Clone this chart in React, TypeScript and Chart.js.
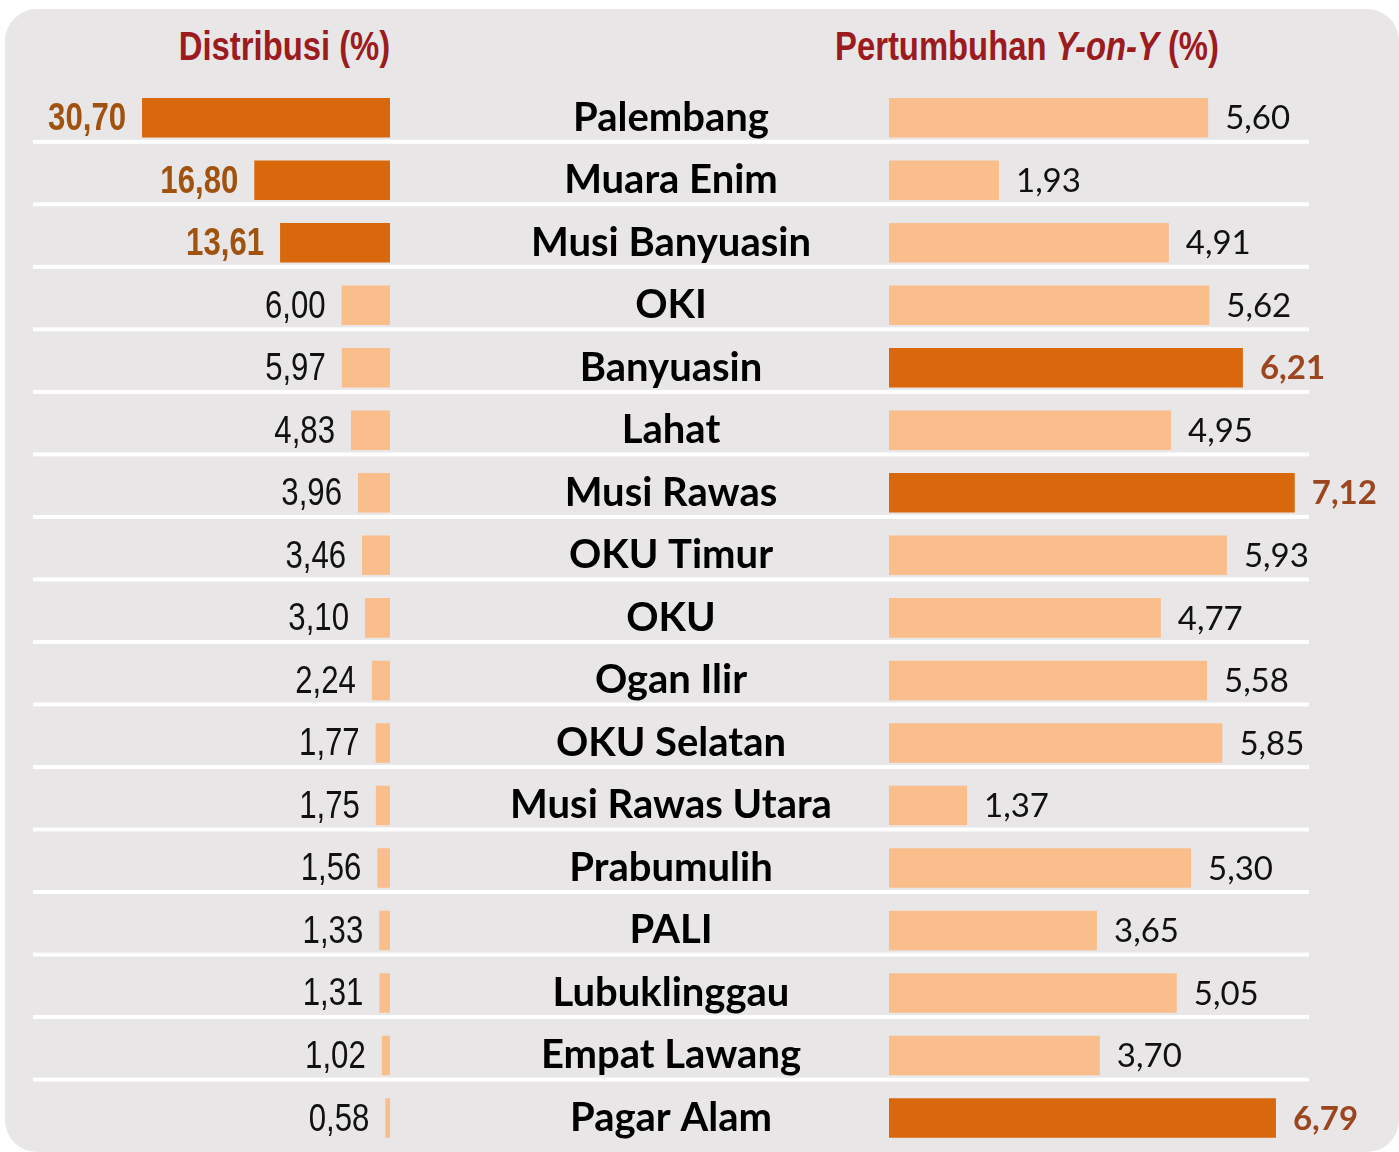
import React, { useEffect, useRef } from 'react';
import { Chart, registerables } from 'chart.js';

Chart.register(...registerables);

const regions = [
  'Palembang', 'Muara Enim', 'Musi Banyuasin', 'OKI', 'Banyuasin', 'Lahat', 'Musi Rawas',
  'OKU Timur', 'OKU', 'Ogan Ilir', 'OKU Selatan', 'Musi Rawas Utara', 'Prabumulih', 'PALI',
  'Lubuklinggau', 'Empat Lawang', 'Pagar Alam',
];
const distribusi = [30.7, 16.8, 13.61, 6.0, 5.97, 4.83, 3.96, 3.46, 3.1, 2.24, 1.77, 1.75, 1.56, 1.33, 1.31, 1.02, 0.58];
const pertumbuhan = [5.6, 1.93, 4.91, 5.62, 6.21, 4.95, 7.12, 5.93, 4.77, 5.58, 5.85, 1.37, 5.3, 3.65, 5.05, 3.7, 6.79];
const leftTitle = 'Distribusi (%)';
const rightTitleA = 'Pertumbuhan ';
const rightTitleB = 'Y-on-Y';
const rightTitleC = ' (%)';

const DARK = '#d9670b';
const LIGHT = '#f9be8c';
const BG = '#e8e6e7';
const TITLE_RED = '#9b1b1f';
const NARROW = '"Liberation Sans", Arial, sans-serif';
const NARROW_SCALE = 0.82;
const SANS = 'Lato, "Open Sans", sans-serif';

const top3 = (arr: number[]) => {
  const sorted = [...arr].sort((a, b) => b - a);
  const thr = sorted[2];
  return arr.map((v) => v >= thr);
};
const fmt = (v: number) => v.toFixed(2).replace('.', ',');

const TOP_PAD = 86.44;
const BOTTOM_PAD = 2.7;

const separatorPlugin = (fromArea: 'left' | 'right') => ({
  id: 'separators' + fromArea,
  beforeDatasetsDraw(chart: any) {
    const y = chart.scales.y;
    const ctx = chart.ctx;
    const pitch = y.getPixelForValue(1) - y.getPixelForValue(0);
    const x0 = fromArea === 'left' ? chart.chartArea.left : 0;
    const x1 = fromArea === 'left' ? chart.width : chart.chartArea.right;
    ctx.save();
    ctx.fillStyle = '#ffffff';
    for (let i = 0; i < regions.length - 1; i++) {
      const yy = y.getPixelForValue(i) + pitch * 0.385;
      ctx.fillRect(x0, yy - 2, x1 - x0, 4);
    }
    ctx.restore();
  },
});

const valueLabelPlugin = (side: 'left' | 'right', values: number[], hi: boolean[]) => ({
  id: 'valueLabels' + side,
  afterDatasetsDraw(chart: any) {
    const meta = chart.getDatasetMeta(0);
    const ctx = chart.ctx;
    meta.data.forEach((el: any, i: number) => {
      const v = values[i];
      ctx.save();
      ctx.textBaseline = 'middle';
      if (side === 'left') {
        ctx.font = `${hi[i] ? 'bold ' : ''}38px ${NARROW}`;
        ctx.fillStyle = hi[i] ? '#a0520f' : '#111111';
        ctx.textAlign = 'right';
        ctx.translate(el.x - 16, el.y + 2);
        ctx.scale(NARROW_SCALE, 1);
        ctx.fillText(fmt(v), 0, 0);
      } else {
        ctx.font = `${hi[i] ? 'bold ' : ''}33px ${SANS}`;
        ctx.fillStyle = hi[i] ? '#9b461f' : '#111111';
        ctx.textAlign = 'left';
        ctx.fillText(fmt(v), el.x + 17, el.y + 1);
      }
      ctx.restore();
    });
  },
});

export default function App() {
  const leftRef = useRef<HTMLCanvasElement | null>(null);
  const rightRef = useRef<HTMLCanvasElement | null>(null);

  useEffect(() => {
    const hiL = top3(distribusi);
    const hiR = top3(pertumbuhan);

    const mctx = document.createElement('canvas').getContext('2d')!;
    mctx.font = `bold 40px ${SANS}`;
    const widest = Math.max(...regions.map((r) => mctx.measureText(r).width));
    const labelPad = 889 - 671 - widest / 2;

    const left = new Chart(leftRef.current!, {
      type: 'bar',
      data: {
        labels: regions,
        datasets: [{
          data: distribusi,
          backgroundColor: distribusi.map((_, i) => (hiL[i] ? DARK : LIGHT)),
          borderWidth: 0,
          categoryPercentage: 1,
          barPercentage: 0.632,
        }],
      },
      options: {
        indexAxis: 'y',
        responsive: false,
        animation: false,
        layout: { padding: { left: 33, right: 70, top: TOP_PAD, bottom: BOTTOM_PAD } },
        plugins: { legend: { display: false }, tooltip: { enabled: false }, title: { display: false } },
        scales: {
          x: { display: false, reverse: true, min: 0, max: 44.2 },
          y: { display: false, offset: true },
        },
      },
      plugins: [separatorPlugin('left'), valueLabelPlugin('left', distribusi, hiL)],
    });

    const right = new Chart(rightRef.current!, {
      type: 'bar',
      data: {
        labels: regions,
        datasets: [{
          data: pertumbuhan,
          backgroundColor: pertumbuhan.map((_, i) => (hiR[i] ? DARK : LIGHT)),
          borderWidth: 0,
          categoryPercentage: 1,
          barPercentage: 0.632,
        }],
      },
      options: {
        indexAxis: 'y',
        responsive: false,
        animation: false,
        layout: { padding: { left: 0, right: 90, top: TOP_PAD, bottom: BOTTOM_PAD } },
        plugins: { legend: { display: false }, tooltip: { enabled: false }, title: { display: false } },
        scales: {
          x: { display: false, min: 0, max: 7.37 },
          y: {
            position: 'left',
            offset: true,
            grid: { display: false, drawTicks: false },
            border: { display: false },
            ticks: {
              autoSkip: false,
              crossAlign: 'center',
              padding: labelPad,
              color: '#000000',
              font: { family: SANS, weight: 'bold', size: 40 },
            },
            afterFit(scale: any) {
              scale.width = 429;
              scale.paddingTop = 0;
              scale.paddingBottom = 0;
            },
          },
        },
      },
      plugins: [separatorPlugin('right'), valueLabelPlugin('right', pertumbuhan, hiR)],
    });

    return () => {
      left.destroy();
      right.destroy();
    };
  }, []);

  const titleStyle: React.CSSProperties = {
    position: 'absolute',
    top: 26,
    fontFamily: NARROW,
    fontWeight: 'bold',
    fontSize: 40,
    lineHeight: '40px',
    color: TITLE_RED,
    textAlign: 'center',
    whiteSpace: 'nowrap',
    transform: `scaleX(${NARROW_SCALE})`,
    transformOrigin: 'center',
  };

  return (
    <div style={{ position: 'absolute', left: 0, top: 0, width: 1399, height: 1152, overflow: 'hidden' }}>
      <div style={{ position: 'absolute', left: 5, top: 9, width: 1394, height: 1143, borderRadius: 32, background: BG }} />
      <div style={{ ...titleStyle, left: 0, width: 569 }}>{leftTitle}</div>
      <div style={{ ...titleStyle, left: 655, width: 744 }}>
        {rightTitleA}<i>{rightTitleB}</i>{rightTitleC}
      </div>
      <canvas ref={leftRef} width={460} height={1152} style={{ position: 'absolute', left: 0, top: 0 }} />
      <canvas ref={rightRef} width={939} height={1152} style={{ position: 'absolute', left: 460, top: 0 }} />
    </div>
  );
}
